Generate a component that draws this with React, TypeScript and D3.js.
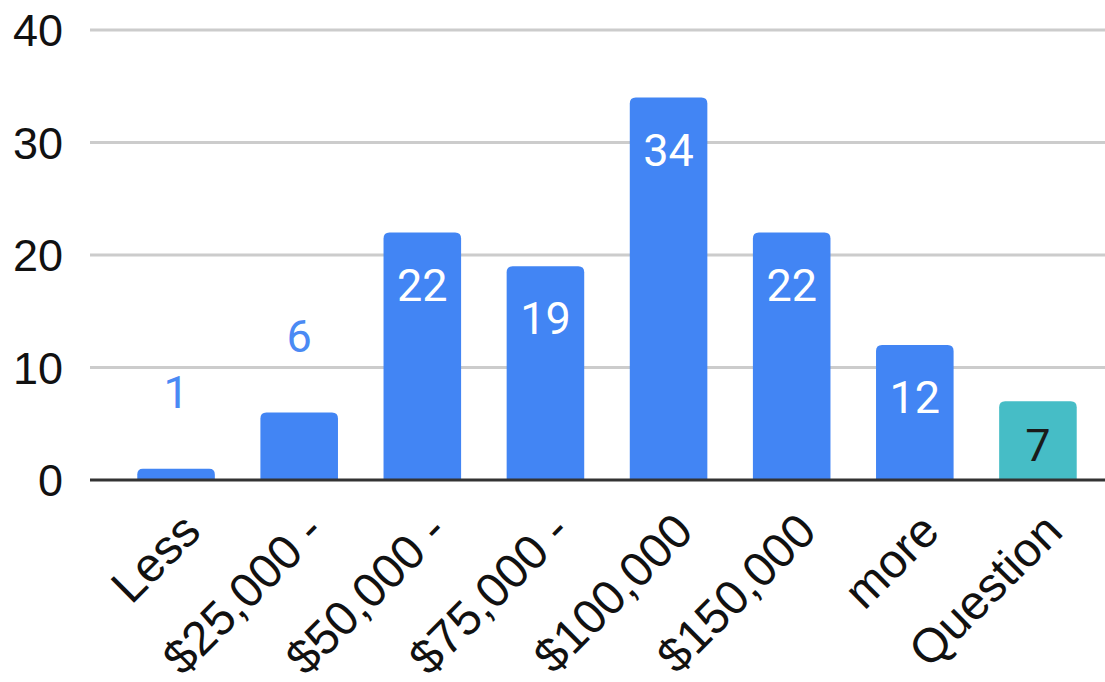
import * as d3 from 'd3'

const categories = ['Less', '$25,000 -', '$50,000 -', '$75,000 -', '$100,000', '$150,000', 'more', 'Question']
const counts = [1, 6, 22, 19, 34, 22, 12, 7]
const barColors = ['#4285f4', '#4285f4', '#4285f4', '#4285f4', '#4285f4', '#4285f4', '#4285f4', '#46bdc6']
const yTicks = [0, 10, 20, 30, 40]

const W = 1105
const H = 682

function topRounded(x: number, y: number, w: number, h: number, r: number) {
  const rr = Math.min(r, h / 2, w / 2)
  return `M${x},${y + h}V${y + rr}Q${x},${y} ${x + rr},${y}H${x + w - rr}Q${x + w},${y} ${x + w},${y + rr}V${y + h}Z`
}

export default function App() {
  const x = d3.scaleBand<string>().domain(categories).range([114.5, 1099.5]).paddingInner(0.37).paddingOuter(0.185)
  const y = d3.scaleLinear().domain([0, 40]).range([480, 30])
  const bw = x.bandwidth()

  return (
    <svg width={W} height={H} style={{ position: 'absolute', left: 0, top: 0, background: '#fff' }}>
      {yTicks.map((t) => (
        <g key={t}>
          {t !== 0 && <line x1={90} x2={W} y1={y(t)} y2={y(t)} stroke="#cccccc" strokeWidth={3} />}
          <text
            x={63}
            y={y(t)}
            dy="0.36em"
            textAnchor="end"
            fontFamily="'Liberation Sans', Arial, sans-serif"
            fontSize={45}
            fill="#111"
          >
            {t}
          </text>
        </g>
      ))}

      {categories.map((c, i) => {
        const v = counts[i]
        const x0 = x(c) ?? 0
        const top = y(v)
        const h = y(0) - top
        const cx = x0 + bw / 2
        const inside = h > 75
        const labelY = inside ? Math.min(top + 68, (top + y(0)) / 2 + 20) : top - 61
        const labelColor = !inside ? '#4a8af4' : barColors[i] === '#46bdc6' ? '#1a1a1a' : '#ffffff'
        return (
          <g key={c}>
            <path d={topRounded(x0, top, bw, h, 6)} fill={barColors[i]} />
            <text
              x={cx}
              y={labelY}
              textAnchor="middle"
              fontFamily="Roboto, 'Noto Sans', sans-serif"
              fontSize={45}
              fill={labelColor}
            >
              {v}
            </text>
          </g>
        )
      })}

      <line x1={90} x2={W} y1={y(0)} y2={y(0)} stroke="#333333" strokeWidth={3} />

      {categories.map((c) => {
        const cx = (x(c) ?? 0) + bw / 2 + 15
        const ly = 522
        return (
          <text
            key={c}
            x={cx}
            y={ly}
            dy="0.35em"
            textAnchor="end"
            transform={`rotate(-45 ${cx} ${ly})`}
            fontFamily="'Liberation Sans', Arial, sans-serif"
            fontSize={48}
            fill="#111"
          >
            {c}
          </text>
        )
      })}
    </svg>
  )
}
